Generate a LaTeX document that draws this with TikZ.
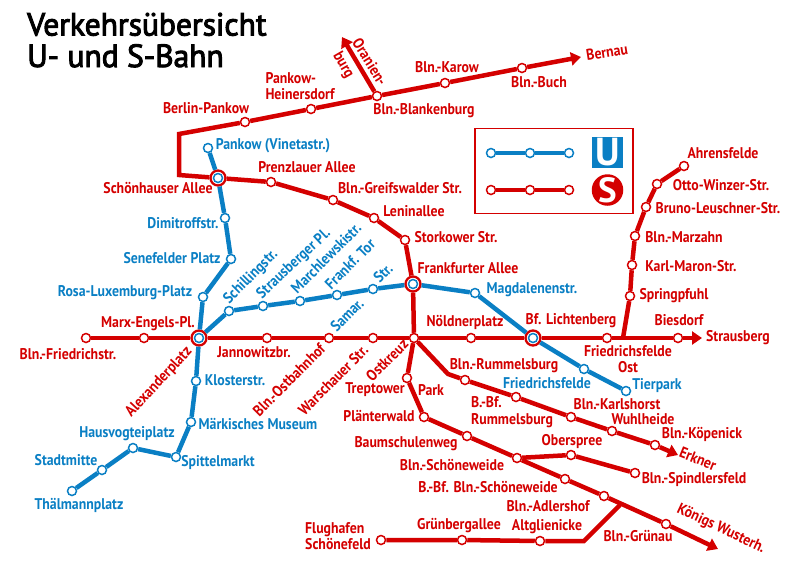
\documentclass[tikz,border=0pt]{standalone}
\usepackage{fontspec}
\setmainfont[FakeStretch=0.89]{PT Sans}
\newfontfamily\titlef[FakeStretch=0.985,FakeBold=3]{PT Sans}
\newfontfamily\logof{PT Sans}
\usetikzlibrary{arrows.meta}
\definecolor{sred}{HTML}{D40000}
\definecolor{ublue}{HTML}{0A7FC4}
\tikzset{
 lab/.style={inner sep=0pt,font=\bfseries\fontsize{15.5}{16.5}\selectfont,align=left},
 rl/.style={lab,text=sred},
 bl/.style={lab,text=ublue},
 st/.style={circle,fill=white,line width=1.5pt,minimum size=9pt,inner sep=0pt},
 sst/.style={st,draw=sred},
 ust/.style={st,draw=ublue},
 ring/.style={circle,fill=white,draw=sred,line width=2.3pt,minimum size=15pt,inner sep=0pt},
 sline/.style={draw=sred,line width=4.5pt,line join=miter},
 uline/.style={draw=ublue,line width=4.5pt,line join=round},
 arr/.style={-{Triangle[length=10pt,width=13pt]}},
 titl/.style={inner sep=0pt,anchor=base west,font=\titlef\fontsize{32}{34}\selectfont},
}
\begin{document}
\begin{tikzpicture}[x=1pt,y=-1pt]
\useasboundingbox (0,0) rectangle (800,566);
% corners and free ends
\coordinate (c1) at (179,134);
\coordinate (c2) at (179,175);
\coordinate (tipBernau) at (581,57);
\coordinate (tipOran) at (342,37);
\coordinate (tipStraus) at (702,338);
\coordinate (jSp) at (623,338);
\coordinate (jR) at (448,374);
\coordinate (tipErk) at (678,455);
\coordinate (jG) at (620,505);
\coordinate (tipKW) at (718,549);
\coordinate (cA) at (584,541);
% stations, S-Bahn
\node[sst] (pank) at (245,122) {};
\node[sst] (hein) at (311,109) {};
\node[sst] (blank) at (377,96) {};
\node[sst] (karow) at (445,83) {};
\node[sst] (buch) at (522,68) {};
\node[ring] (schoenS) at (218,178) {};
\node[sst] (prenz) at (271,182) {};
\node[sst] (greif) at (333,200) {};
\node[sst] (lenin) at (374,218) {};
\node[sst] (stork) at (405,240) {};
\node[ring] (frankS) at (413,284) {};
\node[sst] (fried) at (86,338) {};
\node[sst] (marx) at (144,338) {};
\node[ring] (alexS) at (199,338) {};
\node[sst] (jann) at (267,338) {};
\node[sst] (ostb) at (329,338) {};
\node[sst] (warsch) at (373,338) {};
\node[sst] (ostkr) at (414,338) {};
\node[sst] (noeld) at (471,338) {};
\node[ring] (lichtS) at (533,338) {};
\node[sst] (ffost) at (607,338) {};
\node[sst] (biesd) at (678,338) {};
\node[sst] (sprin) at (630,296) {};
\node[sst] (karl) at (632,265) {};
\node[sst] (marz) at (635,236) {};
\node[sst] (bruno) at (646,207) {};
\node[sst] (otto) at (657,184) {};
\node[sst] (ahren) at (684,166) {};
\node[sst] (trept) at (407,378) {};
\node[sst] (plaen) at (424,417) {};
\node[sst] (baum) at (467,436) {};
\node[sst] (schoe) at (517,458) {};
\node[sst] (bbfs) at (565,479) {};
\node[sst] (adler) at (604,496) {};
\node[sst] (gruen) at (666,524) {};
\node[sst] (oberS) at (571,455) {};
\node[sst] (spind) at (635,473) {};
\node[sst] (rumm) at (465,380) {};
\node[sst] (bbfr) at (516,397) {};
\node[sst] (karls) at (571,417) {};
\node[sst] (wuhl) at (612,431) {};
\node[sst] (koep) at (655,445) {};
\node[sst] (flug) at (381,540) {};
\node[sst] (gberg) at (462,540) {};
\node[sst] (altg) at (540,541) {};
% stations, U-Bahn
\node[ust] (vine) at (208,148) {};
\node[ust] (dimi) at (225,218) {};
\node[ust] (sene) at (231,259) {};
\node[ust] (rosa) at (203,297) {};
\node[ust] (klost) at (196,381) {};
\node[ust] (maerk) at (191,422) {};
\node[ust] (spitt) at (176,457) {};
\node[ust] (haus) at (133,448) {};
\node[ust] (stadt) at (102,470) {};
\node[ust] (thael) at (72,491) {};
\node[ust] (schil) at (229,311) {};
\node[ust] (strau) at (263,306) {};
\node[ust] (march) at (300,301) {};
\node[ust] (ftor) at (337,295) {};
\node[ust] (samar) at (373,289) {};
\node[ust] (magd) at (475,293) {};
\node[ust] (ffeld) at (584,369) {};
\node[ust] (tier) at (626,391) {};
% U lines
\draw[uline] (vine) -- (schoenS) -- (dimi) -- (sene) -- (rosa) -- (alexS) -- (klost) -- (maerk) -- (spitt) -- (haus) -- (stadt) -- (thael);
\draw[uline] (alexS) -- (schil) -- (strau) -- (march) -- (ftor) -- (samar) -- (frankS) -- (magd) -- (lichtS) -- (ffeld) -- (tier);
% S lines
\draw[sline,arr] (pank) -- (hein) -- (blank) -- (karow) -- (buch) -- (tipBernau);
\draw[sline,arr] (blank) -- (tipOran);
\draw[sline] (pank) -- (c1) -- (c2) -- (schoenS) -- (prenz) -- (greif) -- (lenin) -- (stork) -- (frankS) -- (ostkr);
\draw[sline] (fried) -- (marx) -- (alexS) -- (jann) -- (ostb) -- (warsch) -- (ostkr) -- (noeld) -- (lichtS) -- (ffost) -- (biesd);
\draw[sline,arr] (biesd) -- (tipStraus);
\draw[sline] (jSp) -- (sprin) -- (karl) -- (marz) -- (bruno) -- (otto) -- (ahren);
\draw[sline] (ostkr) -- (trept) -- (plaen) -- (baum) -- (schoe) -- (bbfs) -- (adler) -- (gruen);
\draw[sline,arr] (gruen) -- (tipKW);
\draw[sline] (schoe) -- (oberS) -- (spind);
\draw[sline] (ostkr) -- (jR) -- (rumm) -- (bbfr) -- (karls) -- (wuhl) -- (koep);
\draw[sline,arr] (koep) -- (tipErk);
\draw[sline] (flug) -- (gberg) -- (altg) -- (cA) -- (jG);
% interchange inner rings
\node[ust] (schoenU) at (218,178) {};
\node[ust] (frankU) at (413,284) {};
\node[ust] (alexU) at (199,338) {};
\node[ust] (lichtU) at (533,338) {};
% title
\node[titl] (t1) at (27,35.5) {Verkehrsübersicht};
\node[titl] (t2) at (27,67) {U- und S-Bahn};
% legend
\node[draw=sred,line width=1.2pt,minimum width=158pt,minimum height=85pt,inner sep=0pt] (legbox) at (554,171) {};
\node[ust] (lu1) at (491,153) {};
\node[ust] (lu2) at (530,153) {};
\node[ust] (lu3) at (569,153) {};
\node[sst] (ls1) at (491,190) {};
\node[sst] (ls2) at (530,190) {};
\node[sst] (ls3) at (569,190) {};
\draw[draw=ublue,line width=3.5pt] (lu1) -- (lu2) -- (lu3);
\draw[sline] (ls1) -- (ls2) -- (ls3);
\node[fill=ublue,text=white,minimum size=31pt,inner sep=0pt,font=\logof\bfseries\fontsize{39}{39}\selectfont] (logoU) at (607.5,152.5) {U};
\node[circle,fill=sred,text=white,minimum size=31pt,inner sep=0pt,font=\logof\bfseries\fontsize{35}{35}\selectfont] (logoS) at (607.5,190) {S};
% red labels
\node[rl,rotate=-58] (lOran) at (370,62) {Oranien-};
\node[rl,rotate=-60] (lBurg) at (343,65) {burg};
\node[rl] (lHein) at (300,86) {Pankow-\\Heinersdorf};
\node[rl] (lPank) at (206,108) {Berlin-Pankow};
\node[rl] (lBlank) at (424,111) {Bln.-Blankenburg};
\node[rl] (lKarow) at (447,67) {Bln.-Karow};
\node[rl] (lBuch) at (539,82) {Bln.-Buch};
\node[rl,rotate=9] (lBern) at (607,52) {Bernau};
\node[rl] (lSchoen) at (158,188) {Schönhauser Allee};
\node[rl] (lPrenz) at (307,167) {Prenzlauer Allee};
\node[rl] (lGreif) at (400,188) {Bln.-Greifswalder Str.};
\node[rl] (lLenin) at (414,211) {Leninallee};
\node[rl] (lStork) at (456,237) {Storkower Str.};
\node[rl] (lFrank) at (468,268) {Frankfurter Allee};
\node[rl] (lAhren) at (723,153) {Ahrensfelde};
\node[rl] (lOtto) at (721,185) {Otto-Winzer-Str.};
\node[rl] (lBruno) at (718,208) {Bruno-Leuschner-Str.};
\node[rl] (lMarz) at (684,237) {Bln.-Marzahn};
\node[rl] (lKarl) at (691,266) {Karl-Maron-Str.};
\node[rl] (lSprin) at (674,296) {Springpfuhl};
\node[rl] (lMarx) at (148,324) {Marx-Engels-Pl.};
\node[rl] (lFried) at (68,354) {Bln.-Friedrichstr.};
\node[rl,rotate=47] (lAlex) at (159,382) {Alexanderplatz};
\node[rl] (lJann) at (254,352) {Jannowitzbr.};
\node[rl,rotate=45] (lOstb) at (289,380) {Bln.-Ostbahnhof};
\node[rl,rotate=45] (lWarsch) at (333,380) {Warschauer Str.};
\node[rl,rotate=45] (lOstkr) at (387,360) {Ostkreuz};
\node[rl] (lTrept) at (375,390) {Treptower};
\node[rl] (lPark) at (431,390) {Park};
\node[rl] (lPlaen) at (379,416) {Plänterwald};
\node[rl] (lBaum) at (406,444) {Baumschulenweg};
\node[rl] (lSchoe) at (452,465) {Bln.-Schöneweide};
\node[rl] (lBbfs) at (488,487) {B.-Bf. Bln.-Schöneweide};
\node[rl] (lAdler) at (548,506) {Bln.-Adlershof};
\node[rl] (lAltg) at (547,527) {Altglienicke};
\node[rl] (lGberg) at (459,526) {Grünbergallee};
\node[rl] (lFlug) at (338,536) {Flughafen\\Schönefeld};
\node[rl] (lGruen) at (638,536) {Bln.-Grünau};
\node[rl,rotate=-25] (lKW) at (721,529) {Königs Wusterh.};
\node[rl,rotate=-22] (lErk) at (698,459) {Erkner};
\node[rl] (lSpind) at (694,480) {Bln.-Spindlersfeld};
\node[rl] (lOber) at (572,442) {Oberspree};
\node[rl] (lKoep) at (702,434) {Bln.-Köpenick};
\node[rl] (lWuhl) at (643,419) {Wuhlheide};
\node[rl] (lKarls) at (617,404) {Bln.-Karlshorst};
\node[rl] (lBbfr) at (512,412) {B.-Bf.\\Rummelsburg};
\node[rl] (lRumm) at (504,366) {Bln.-Rummelsburg};
\node[rl] (lNoeld) at (465,322) {Nöldnerplatz};
\node[rl] (lLicht) at (571,321) {Bf. Lichtenberg};
\node[rl,align=center] (lFfost) at (628,359) {Friedrichsfelde\\Ost};
\node[rl] (lBiesd) at (679,320) {Biesdorf};
\node[rl] (lStraus) at (738,338) {Strausberg};
% blue labels
\node[bl] (lVine) at (273,146) {Pankow (Vinetastr.)};
\node[bl] (lDimi) at (183,223) {Dimitroffstr.};
\node[bl] (lSene) at (172,258) {Senefelder Platz};
\node[bl] (lRosa) at (125,293) {Rosa-Luxemburg-Platz};
\node[bl,rotate=45] (lSchil) at (251,277) {Schillingstr.};
\node[bl,rotate=43] (lStrau) at (294,264) {Strausberger Pl.};
\node[bl,rotate=45] (lMarch) at (326,258) {Marchlewskistr.};
\node[bl,rotate=45] (lFtor) at (350,264) {Frankf. Tor};
\node[bl,rotate=45] (lStr) at (383,273) {Str.};
\node[bl,rotate=45] (lSamar) at (347,315) {Samar.};
\node[bl] (lMagd) at (532,290) {Magdalenenstr.};
\node[bl] (lFfeld) at (547,383) {Friedrichsfelde};
\node[bl] (lTier) at (657,386) {Tierpark};
\node[bl] (lKlost) at (235,380) {Klosterstr.};
\node[bl] (lMaerk) at (258,424) {Märkisches Museum};
\node[bl] (lSpitt) at (218,463) {Spittelmarkt};
\node[bl] (lHaus) at (127,434) {Hausvogteiplatz};
\node[bl] (lStadt) at (66,460) {Stadtmitte};
\node[bl] (lThael) at (79,505) {Thälmannplatz};
\end{tikzpicture}
\end{document}
